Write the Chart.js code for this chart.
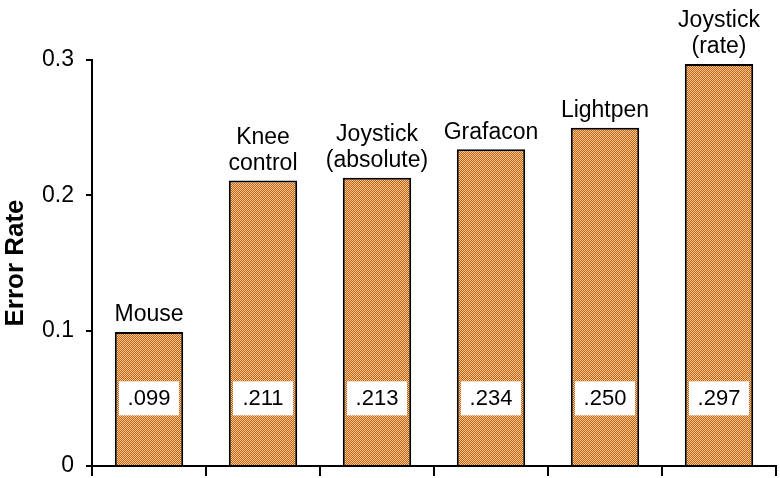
<!DOCTYPE html>
<html>
<head>
<meta charset="utf-8">
<script src="https://cdn.jsdelivr.net/npm/chart.js@4"></script>
<style>
  html, body { margin: 0; padding: 0; background: #fff; }
  #wrap { width: 780px; height: 478px; }
</style>
</head>
<body>
<div id="wrap"><canvas id="myChart" width="780" height="478"></canvas></div>
<script>
// data
const devices = [['Mouse'], ['Knee', 'control'], ['Joystick', '(absolute)'], ['Grafacon'], ['Lightpen'], ['Joystick', '(rate)']];
const errorRates = [0.099, 0.211, 0.213, 0.234, 0.250, 0.297];
const valueLabels = ['.099', '.211', '.213', '.234', '.250', '.297'];
const yTicks = [0, 0.1, 0.2, 0.3];

// checker pattern for the bars
function makePattern() {
    const c = document.createElement('canvas');
    c.width = 2; c.height = 2;
    const g = c.getContext('2d');
    g.fillStyle = '#c8641a';
    g.fillRect(0, 0, 2, 2);
    g.fillStyle = '#f3c78c';
    g.fillRect(0, 0, 1, 1);
    g.fillRect(1, 1, 1, 1);
    return document.getElementById('myChart').getContext('2d').createPattern(c, 'repeat');
}

const FONT = '"Liberation Sans", Arial, sans-serif';

// labels above bars + white value boxes
const barLabels = {
    id: 'barLabels',
    afterDatasetsDraw(chart) {
        const ctx = chart.ctx;
        const meta = chart.getDatasetMeta(0);
        const yScale = chart.scales.y;
        ctx.save();
        ctx.textAlign = 'center';
        ctx.textBaseline = 'middle';
        meta.data.forEach((bar, i) => {
            const lines = devices[i];
            ctx.font = '23px ' + FONT;
            ctx.fillStyle = '#000';
            for (let k = 0; k < lines.length; k++) {
                const y = bar.y - 17 - (lines.length - 1 - k) * 26;
                ctx.fillText(lines[k], bar.x, y);
            }
            // value box
            const by = yScale.getPixelForValue(0.05);
            ctx.fillStyle = '#fff';
            ctx.fillRect(bar.x - 30, by - 17, 60, 34);
            ctx.fillStyle = '#000';
            ctx.font = '22px ' + FONT;
            ctx.fillText(valueLabels[i], bar.x, by + 1);
        });
        ctx.restore();
    }
};

const ctx = document.getElementById('myChart').getContext('2d');

let errorChart = new Chart(ctx, {
    type: 'bar',
    data: {
        labels: devices.map(d => d.join(' ')),
        datasets: [{
            data: errorRates,
            backgroundColor: makePattern(),
            borderColor: '#000',
            borderWidth: 2,
            borderSkipped: 'bottom',
            categoryPercentage: 1,
            barPercentage: 0.6
        }]
    },
    options: {
        responsive: false,
        animation: false,
        layout: { padding: { top: 60, right: 4, left: 0, bottom: 0 } },
        plugins: {
            legend: { display: false },
            tooltip: { enabled: false }
        },
        scales: {
            x: {
                ticks: { display: false },
                grid: { drawOnChartArea: false, drawTicks: true, tickLength: 10, color: '#000', lineWidth: 2 },
                border: { display: true, color: '#000', width: 2 },
                afterFit(scale) { scale.height = 12; }
            },
            y: {
                min: 0,
                max: 0.3,
                afterBuildTicks(scale) { scale.ticks = yTicks.map(v => ({ value: v })); },
                ticks: {
                    color: '#000',
                    font: { family: FONT, size: 23 },
                    padding: 12,
                    callback: v => v === 0 ? '0' : v.toFixed(1)
                },
                grid: { drawOnChartArea: false, drawTicks: true, tickLength: 6, color: '#000', lineWidth: 2 },
                border: { display: true, color: '#000', width: 2 },
                title: {
                    display: true,
                    text: 'Error Rate',
                    color: '#000',
                    font: { family: FONT, size: 26, weight: 'bold' },
                    padding: { top: 0, bottom: 6 }
                },
                afterFit(scale) {
                    scale.width = 92;
                    scale.paddingTop = 0;
                    scale.paddingBottom = 0;
                }
            }
        }
    },
    plugins: [barLabels]
});
</script>
</body>
</html>
